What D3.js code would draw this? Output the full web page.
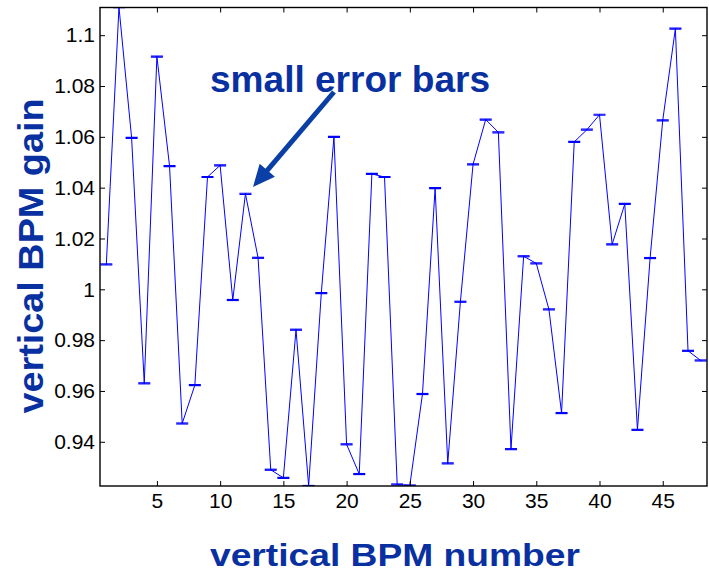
<!DOCTYPE html>
<html>
<head>
<meta charset="utf-8">
<script src="https://cdn.jsdelivr.net/npm/d3@7"></script>
<style>
  body { margin: 0; background: #fff; }
  svg { display: block; }
  .tick text { font-family: "Liberation Sans", Arial, sans-serif; font-size: 21px; fill: #000; }
  .tick line { stroke: #000; stroke-width: 1; }
</style>
</head>
<body>
<div id="chart"></div>
<script>
// BPM index 1..48
const bpm = d3.range(1, 49);
// measured gain of each vertical BPM
const gain = [1.0098, 1.111, 1.0596, 0.963, 1.0916, 1.0485, 0.9472, 0.9623, 1.0442, 1.0488,
  0.9958, 1.0376, 1.0124, 0.929, 0.9258, 0.9841, 0.9226, 0.9985, 1.06, 0.939,
  0.9273, 1.0454, 1.0442, 0.9232, 0.9228, 0.9588, 1.0398, 0.9315, 0.9951, 1.0492,
  1.0668, 1.0618, 0.9371, 1.013, 1.0102, 0.9921, 0.9513, 1.058, 1.0628, 1.0687,
  1.0177, 1.0336, 0.9447, 1.0123, 1.0665, 1.1026, 0.9758, 0.972];
// error on each gain (tiny)
const gainErr = [0.0002, 0.0002, 0.0002, 0.0002, 0.0002, 0.0002, 0.0002, 0.0002, 0.0002, 0.0002,
  0.0002, 0.0002, 0.0002, 0.0002, 0.0002, 0.0002, 0.0002, 0.0002, 0.0002, 0.0002,
  0.0002, 0.0002, 0.0002, 0.0002, 0.0002, 0.0002, 0.0002, 0.0002, 0.0002, 0.0002,
  0.0002, 0.0002, 0.0002, 0.0002, 0.0002, 0.0002, 0.0002, 0.0002, 0.0002, 0.0002,
  0.0002, 0.0002, 0.0002, 0.0002, 0.0002, 0.0002, 0.0002, 0.0002];
const xTicks = [5, 10, 15, 20, 25, 30, 35, 40, 45];
const yTicks = [0.94, 0.96, 0.98, 1, 1.02, 1.04, 1.06, 1.08, 1.1];
const yTickLabels = ["0.94", "0.96", "0.98", "1", "1.02", "1.04", "1.06", "1.08", "1.1"];

const W = 709, H = 574;
const margin = { top: 7.5, right: 2, bottom: 88, left: 100 };
const width = W - margin.left - margin.right,
  height = H - margin.top - margin.bottom;
const darkBlue = "#0830a0";

const svg = d3.select("#chart").append("svg")
  .attr("width", W).attr("height", H);

const g = svg.append("g")
  .attr("transform", `translate(${margin.left},${margin.top})`);

const x = d3.scaleLinear().domain([0.5, 48.5]).range([0, width]);
const y = d3.scaleLinear().domain([0.9226, 1.1109]).range([height, 0]);

// clip to axes box
g.append("clipPath").attr("id", "clip")
  .append("rect").attr("width", width).attr("height", height);

const plot = g.append("g").attr("clip-path", "url(#clip)");

const rows = bpm.map((b, i) => ({ b: b, v: gain[i], e: gainErr[i] }));

// the connecting line
plot.append("path")
  .datum(rows)
  .attr("fill", "none")
  .attr("stroke", "#0000ff")
  .attr("stroke-width", 1)
  .attr("d", d3.line().x(d => x(d.b)).y(d => y(d.v)));

// error bars with caps
const capW = 6;
const eb = plot.selectAll(".eb").data(rows).join("g").attr("class", "eb")
  .attr("stroke", "#0000ff").attr("stroke-width", 1.2);
eb.append("line")
  .attr("x1", d => x(d.b)).attr("x2", d => x(d.b))
  .attr("y1", d => y(d.v - d.e)).attr("y2", d => y(d.v + d.e));
eb.append("line")
  .attr("x1", d => x(d.b) - capW).attr("x2", d => x(d.b) + capW)
  .attr("y1", d => y(d.v - d.e)).attr("y2", d => y(d.v - d.e));
eb.append("line")
  .attr("x1", d => x(d.b) - capW).attr("x2", d => x(d.b) + capW)
  .attr("y1", d => y(d.v + d.e)).attr("y2", d => y(d.v + d.e));

// axes, ticks pointing inward like matlab
g.append("g")
  .attr("transform", `translate(0,${height})`)
  .call(d3.axisBottom(x).tickValues(xTicks).tickSizeInner(-5).tickSizeOuter(0).tickPadding(7))
  .call(a => a.select(".domain").remove());
g.append("g")
  .call(d3.axisTop(x).tickValues(xTicks).tickSizeInner(-5).tickSizeOuter(0).tickFormat(""))
  .call(a => a.select(".domain").remove());
g.append("g")
  .call(d3.axisLeft(y).tickValues(yTicks).tickSizeInner(-5).tickSizeOuter(0).tickPadding(5)
    .tickFormat((d, i) => yTickLabels[i]))
  .call(a => a.select(".domain").remove());
g.append("g")
  .attr("transform", `translate(${width},0)`)
  .call(d3.axisRight(y).tickValues(yTicks).tickSizeInner(-5).tickSizeOuter(0).tickFormat(""))
  .call(a => a.select(".domain").remove());

g.append("rect")
  .attr("width", width).attr("height", height)
  .attr("fill", "none").attr("stroke", "#000").attr("stroke-width", 1.4);

// axis titles
svg.append("text")
  .attr("x", 395).attr("y", 566)
  .attr("text-anchor", "middle")
  .attr("textLength", 370).attr("lengthAdjust", "spacingAndGlyphs")
  .style("font-family", "Liberation Sans, Arial, sans-serif")
  .style("font-weight", "bold").style("font-size", "32px")
  .style("fill", darkBlue)
  .text("vertical BPM number");

svg.append("text")
  .attr("transform", "translate(43,256) rotate(-90)")
  .attr("text-anchor", "middle")
  .attr("textLength", 315).attr("lengthAdjust", "spacingAndGlyphs")
  .style("font-family", "Liberation Sans, Arial, sans-serif")
  .style("font-weight", "bold").style("font-size", "35px")
  .style("fill", darkBlue)
  .text("vertical BPM gain");

// annotation
svg.append("text")
  .attr("x", 350).attr("y", 92)
  .attr("text-anchor", "middle")
  .attr("textLength", 280).attr("lengthAdjust", "spacingAndGlyphs")
  .style("font-family", "Liberation Sans, Arial, sans-serif")
  .style("font-weight", "bold").style("font-size", "36px")
  .style("fill", darkBlue)
  .text("small error bars");

const arrowCol = "#0a3fa5";
const p0 = [334, 92], tip = [253, 187];
const dx = tip[0] - p0[0], dy = tip[1] - p0[1];
const len = Math.hypot(dx, dy), ux = dx / len, uy = dy / len;
const headL = 22, headW = 10;
const base = [tip[0] - ux * headL, tip[1] - uy * headL];
svg.append("line")
  .attr("x1", p0[0]).attr("y1", p0[1])
  .attr("x2", base[0] + ux * 2).attr("y2", base[1] + uy * 2)
  .attr("stroke", arrowCol).attr("stroke-width", 5);
svg.append("path")
  .attr("d", d3.line()([
    tip,
    [base[0] - uy * headW, base[1] + ux * headW],
    [base[0] + uy * headW, base[1] - ux * headW]
  ]) + "Z")
  .attr("fill", arrowCol);
</script>
</body>
</html>
